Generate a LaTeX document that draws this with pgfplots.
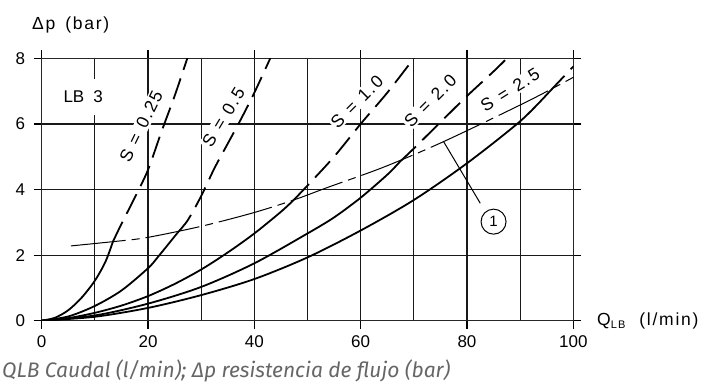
\documentclass[border=0pt]{standalone}
\usepackage{pgfplots}
\pgfplotsset{compat=1.18}
\usepackage{fontspec}
\setmainfont{Liberation Sans}
\newfontfamily\isofont[LetterSpace=10]{Liberation Sans}
\newfontfamily\capfont{Fira Sans}
\newcommand\lbl{\fontsize{17bp}{20bp}\selectfont}
\newcommand\slbl{\isofont\fontsize{17.5bp}{20bp}\selectfont}
\begin{document}
\begin{tikzpicture}
\begin{axis}[
  width=531.6bp, height=262.4bp, scale only axis,
  xmin=0, xmax=100, ymin=0, ymax=8,
  xtick={0,20,...,100}, minor xtick={10,30,...,90}, ytick={0,2,...,8},
  grid=both,
  major grid style={black!90, line width=1.2bp},
  minor grid style={black!90, line width=1.2bp},
  tick align=outside, major tick length=8bp, minor tick length=0pt,
  major tick style={black, line width=1.2bp},
  axis line style={black!85, line width=1.3bp},
  ticklabel style={font=\lbl},
  /pgf/number format/assume math mode=true,
  xticklabel style={yshift=-3bp},
  yticklabel style={xshift=-5bp},
  clip=true,
]
\coordinate (O) at (axis cs:0,0);
\coordinate (LB) at (axis cs:7.8,6.82);
\coordinate (L1) at (axis cs:18.7,5.92);
\coordinate (L2) at (axis cs:34.2,6.2);
\coordinate (L3) at (axis cs:59.3,6.68);
\coordinate (L4) at (axis cs:73.1,6.7);
\coordinate (L5) at (axis cs:88.1,7.03);
% S = 0.25
\addplot[black, line width=1.8bp, smooth] coordinates {(0,0)(2.5,0.09)(5,0.32)(7.5,0.7)(10,1.22)(12,1.8)(13.4,2.41)};
\addplot[black, line width=1.8bp, smooth, dash pattern=on 22bp off 9bp] coordinates {(13.4,2.41)(15,2.95)(17.5,3.75)(20,4.6)(22.5,5.75)(25,6.85)(27.5,8.05)(28,8.3)};
% S = 0.5
\addplot[black, line width=1.8bp, smooth] coordinates {(0,0)(5,0.13)(10,0.45)(15,0.92)(20,1.6)(22,1.97)(25.6,2.69)};
\addplot[black, line width=1.8bp, smooth, dash pattern=on 22bp off 9bp] coordinates {(25.6,2.69)(27.5,3.07)(30,3.8)(32.5,4.65)(35,5.4)(37.5,6.15)(40,6.95)(43,8.0)(44,8.35)};
% S = 1.0
\addplot[black, line width=1.8bp, smooth] coordinates {(0,0)(5,0.08)(10,0.24)(15,0.46)(20,0.75)(25,1.12)(30,1.56)(35,2.08)(40,2.66)(45,3.32)(47.4,3.68)};
\addplot[black, line width=1.8bp, smooth, dash pattern=on 22bp off 9bp] coordinates {(47.4,3.68)(50,4.12)(55,5.0)(60,6.0)(65,6.95)(70,8.0)(71,8.25)};
% S = 2.0
\addplot[black, line width=1.8bp, smooth] coordinates {(0,0)(10,0.16)(20,0.52)(30,1.03)(40,1.75)(50,2.66)(55,3.15)(60,3.75)(65,4.45)(67.4,4.85)};
\addplot[black, line width=1.8bp, smooth, dash pattern=on 22bp off 9bp] coordinates {(67.4,4.85)(70,5.25)(75,6.05)(80,6.85)(85,7.6)(87.5,8.0)(88.5,8.2)};
% S = 2.5
\addplot[black, line width=1.8bp, smooth] coordinates {(0,0)(10,0.12)(20,0.39)(30,0.78)(40,1.27)(50,1.93)(60,2.75)(70,3.68)(80,4.8)(90,6.08)(95.5,6.98)};
\addplot[black, line width=1.8bp, smooth, dash pattern=on 22bp off 9bp] coordinates {(95.5,6.98)(100,7.75)};
% line 1
\addplot[black, line width=1bp, smooth, dash pattern=on 55bp off 6bp on 8bp off 6bp] coordinates {(5.5,2.28)(13.4,2.41)(19.6,2.53)(29.8,2.87)(39.8,3.29)(47.4,3.68)(53.9,4.07)(64.3,4.68)(75.6,5.46)(91.3,6.68)(100,7.42)};
\addplot[black, line width=1bp] coordinates {(75.6,5.46)(82.5,3.58)};
\node[draw=black, line width=1bp, circle, minimum size=25bp, inner sep=0pt, font=\fontsize{15bp}{15bp}\selectfont] at (axis cs:85,3.02) {1};
\end{axis}
\pgfresetboundingbox
\path[use as bounding box] ([shift={(-41.7bp,-64.3bp)}]O) rectangle ++(701bp,385bp);
\node[fill=white, inner xsep=3bp, inner ysep=12bp, font=\lbl] at (LB) {LB\hspace{9bp}3};
\node[fill=white, inner sep=1.5bp, rotate=64, font=\slbl] at (L1) {S\hspace{8bp}=\hspace{8bp}0.25};
\node[fill=white, inner sep=1.5bp, rotate=59, font=\slbl] at (L2) {S\hspace{8bp}=\hspace{8bp}0.5};
\node[fill=white, inner sep=1.5bp, rotate=45, font=\slbl] at (L3) {S\hspace{8bp}=\hspace{8bp}1.0};
\node[fill=white, inner sep=1.5bp, rotate=45, font=\slbl] at (L4) {S\hspace{8bp}=\hspace{8bp}2.0};
\node[fill=white, inner sep=1.5bp, rotate=32, font=\slbl] at (L5) {S\hspace{8bp}=\hspace{8bp}2.5};
\node[anchor=base west, font=\slbl, inner sep=0pt] at ([shift={(-9.7bp,290.7bp)}]O) {Δp\hspace{10bp}(bar)};
\node[anchor=base west, font=\slbl, inner sep=0pt] at ([shift={(555.3bp,-4.3bp)}]O) {Q\raisebox{-3bp}{\fontsize{11bp}{11bp}\selectfont LB}\hspace{14bp}(l/min)};
\node[anchor=base west, inner sep=0pt, text=black!60, font=\capfont\itshape\fontsize{21bp}{24bp}\selectfont] at ([shift={(-39.7bp,-56.3bp)}]O) {QLB Caudal (l/min); Δp resistencia de flujo (bar)};
\end{tikzpicture}
\end{document}
